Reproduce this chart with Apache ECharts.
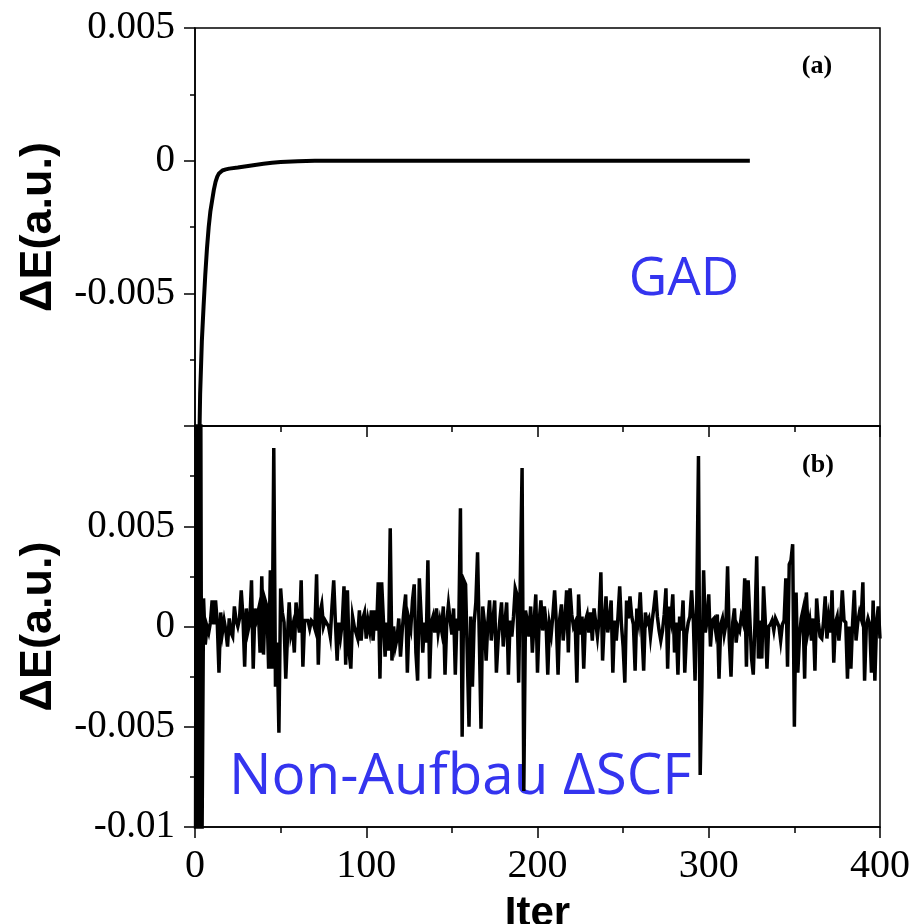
<!DOCTYPE html>
<html><head><meta charset="utf-8">
<script src="https://cdn.jsdelivr.net/npm/echarts@6/dist/echarts.min.js"></script>
<style>html,body{margin:0;padding:0;background:#fff}#c{width:913px;height:924px}</style>
</head><body><div id="c"></div>
<script>
// ---- Panel (a): GAD convergence ----
const gadIter = [0, 1, 2, 3, 4, 5, 6, 7, 8, 9, 10, 11, 12, 13, 14, 15, 16, 18, 20, 25, 30, 35, 40, 45, 50, 60, 70, 100, 150, 200, 250, 300, 324];
const gadDE = [-0.03, -0.02, -0.0125, -0.0088, -0.0068, -0.0055, -0.0043, -0.0033, -0.0025, -0.0019, -0.0015, -0.0011, -0.0008, -0.0006, -0.00048, -0.00042, -0.00037, -0.00033, -0.0003, -0.00026, -0.00021, -0.00016, -0.00012, -0.00008, -0.00005, -0.00002, 0, 0, 0, 0, 0, 0, 0];

// ---- Panel (b): Non-Aufbau ΔSCF, one value per iteration 0..400 ----
const nonAufbauDE = [
 -0.03, 0.03, -0.03, 0.025, -0.012, 0.0014, -0.0009, 0.0000, -0.0003, 0.0002,
 0.0013, 0.0001, 0.0013, 0.0002, -0.0023, 0.0007, -0.0003, 0.0003, -0.0002, -0.0010,
 0.0004, -0.0003, -0.0005, 0.0010, 0.0003, 0.0000, 0.0004, 0.0018, 0.0005, -0.0020,
 0.0009, -0.0002, 0.0002, 0.0023, -0.0021, 0.0009, 0.0004, 0.0008, -0.0013, 0.0025,
 -0.0014, 0.0013, 0.0010, -0.0021, 0.0028, -0.0021, 0.0089, -0.0030, -0.0008, -0.0053,
 0.0019, 0.0007, 0.0002, -0.0026, -0.0005, 0.0012, -0.0004, 0.0000, -0.0013, 0.0012,
 0.0003, -0.0003, 0.0023, -0.0020, 0.0003, 0.0003, 0.0003, -0.0001, 0.0003, 0.0002,
 -0.0001, 0.0026, -0.0019, 0.0007, 0.0011, 0.0000, 0.0003, 0.0003, 0.0000, -0.0005,
 0.0010, 0.0023, 0.0002, -0.0017, 0.0002, -0.0005, 0.0002, 0.0020, -0.0019, 0.0018,
 -0.0013, -0.0021, 0.0005, 0.0000, -0.0003, -0.0006, 0.0008, -0.0007, 0.0004, 0.0007,
 -0.0006, 0.0003, -0.0002, 0.0008, -0.0007, 0.0008, -0.0002, 0.0022, -0.0026, 0.0022,
 0.0022, -0.0015, 0.0002, -0.0012, 0.0049, -0.0017, 0.0000, -0.0010, -0.0006, 0.0004,
 -0.0015, -0.0002, 0.0008, 0.0016, -0.0023, 0.0003, -0.0001, 0.0013, 0.0021, -0.0013,
 -0.0027, 0.0024, 0.0006, -0.0013, 0.0002, -0.0008, 0.0033, -0.0026, 0.0002, 0.0005,
 -0.0003, 0.0009, -0.0003, 0.0003, -0.0002, 0.0010, -0.0024, 0.0002, 0.0011, 0.0003,
 -0.0004, 0.0009, -0.0024, 0.0004, -0.0002, 0.0059, -0.0055, 0.0023, 0.0021, 0.0021,
 -0.0050, 0.0005, -0.0030, 0.0002, 0.0012, 0.0037, -0.0005, -0.0051, 0.0010, 0.0002,
 -0.0017, 0.0002, 0.0013, -0.0007, 0.0003, 0.0013, -0.0023, -0.0007, 0.0003, 0.0012,
 -0.0010, 0.0002, 0.0012, -0.0024, 0.0003, -0.0005, 0.0005, 0.0019, 0.0016, -0.0028,
 -0.0028, 0.0079, -0.0082, 0.0008, 0.0003, -0.0005, 0.0010, -0.0013, 0.0002, 0.0016,
 -0.0023, 0.0003, 0.0013, -0.0002, 0.0010, 0.0002, -0.0024, 0.0001, -0.0004, 0.0006,
 0.0018, 0.0002, -0.0024, 0.0004, 0.0011, -0.0007, 0.0003, 0.0018, -0.0013, 0.0019,
 0.0006, 0.0000, 0.0002, -0.0028, 0.0016, -0.0004, 0.0005, -0.0021, 0.0003, 0.0006,
 -0.0003, 0.0007, -0.0007, 0.0009, 0.0002, -0.0005, 0.0004, 0.0027, -0.0017, 0.0002,
 0.0015, -0.0003, 0.0003, 0.0013, -0.0023, 0.0003, -0.0007, 0.0005, 0.0020, 0.0001,
 -0.0010, -0.0028, 0.0013, 0.0004, 0.0015, 0.0005, 0.0001, -0.0022, 0.0009, 0.0003,
 0.0017, -0.0003, -0.0022, 0.0007, 0.0002, 0.0004, -0.0005, 0.0003, 0.0010, 0.0018,
 0.0005, -0.0002, -0.0007, -0.0002, 0.0006, 0.0019, -0.0021, 0.0010, 0.0004, 0.0016,
 -0.0013, 0.0002, -0.0024, 0.0005, -0.0002, 0.0013, -0.0023, -0.0004, 0.0002, 0.0005,
 0.0018, 0.0003, -0.0027, 0.0012, 0.0085, -0.0074, -0.0030, 0.0028, -0.0003, 0.0003,
 0.0016, -0.0010, 0.0003, 0.0004, -0.0002, 0.0006, -0.0026, 0.0001, 0.0004, -0.0004,
 0.0001, 0.0030, -0.0007, -0.0025, 0.0002, 0.0009, -0.0008, 0.0000, -0.0002, 0.0005,
 0.0002, 0.0024, -0.0020, 0.0023, 0.0004, -0.0016, -0.0024, 0.0002, 0.0035, -0.0016,
 0.0003, -0.0016, 0.0020, 0.0003, -0.0021, 0.0000, 0.0001, 0.0003, -0.0002, 0.0004,
 0.0002, 0.0000, -0.0007, 0.0001, 0.0003, 0.0024, -0.0020, 0.0031, 0.0033, 0.0041,
 -0.0050, 0.0017, -0.0023, -0.0005, 0.0004, 0.0008, -0.0026, 0.0017, -0.0002, 0.0003,
 -0.0007, 0.0004, -0.0022, 0.0014, 0.0002, -0.0005, -0.0006, 0.0002, 0.0015, -0.0006,
 0.0004, -0.0003, 0.0018, -0.0018, 0.0002, 0.0005, -0.0007, 0.0003, 0.0018, 0.0003,
 0.0002, -0.0026, 0.0000, -0.0021, 0.0002, 0.0018, -0.0007, 0.0002, 0.0007, 0.0004,
 0.0022, -0.0027, 0.0000, 0.0004, 0.0001, -0.0023, 0.0013, -0.0027, 0.0002, 0.0010,
 -0.0006
];

// ---- Axis text ----
const yAxisTitle = 'ΔE(a.u.)';
const xAxisTitle = 'Iter';
const panelLabels = ['(a)', '(b)'];
const methodLabels = ['GAD', 'Non-Aufbau ΔSCF'];

const serif = 'Liberation Serif';
const sans = 'Liberation Sans';
const black = '#000';
const blue = '#3434ef';

function fmtY(v) { return String(+Number(v).toFixed(4)); }

function xAxisCfg(gi, showLabels) {
  return {
    type: 'value', gridIndex: gi, min: 0, max: 400, interval: 100,
    axisLine: { show: true, onZero: false, lineStyle: { color: black, width: 1.5 } },
    axisTick: { show: true, inside: false, length: 11, lineStyle: { color: black, width: 1.5 } },
    minorTick: { show: true, splitNumber: 2, length: 6, lineStyle: { color: black, width: 1.5 } },
    splitLine: { show: false },
    axisLabel: { show: showLabels, fontFamily: serif, fontSize: 40, color: black, margin: 19 },
    name: showLabels ? xAxisTitle : '',
    nameLocation: 'middle', nameGap: 66,
    nameTextStyle: { fontFamily: sans, fontWeight: 'bold', fontSize: 42, color: black }
  };
}

function yAxisCfg(gi, min, max, hideMin, hideMax) {
  return {
    type: 'value', gridIndex: gi, min: min, max: max, interval: 0.005,
    axisLine: { show: true, onZero: false, lineStyle: { color: black, width: 1.5 } },
    axisTick: { show: true, inside: false, length: 11, lineStyle: { color: black, width: 1.5 } },
    minorTick: { show: true, splitNumber: 2, length: 5, lineStyle: { color: black, width: 1.5 } },
    splitLine: { show: false },
    axisLabel: {
      fontFamily: serif, fontSize: 39, color: black, margin: 20,
      formatter: function (v) {
        if ((hideMin && Math.abs(v - min) < 1e-9) || (hideMax && Math.abs(v - max) < 1e-9)) return '';
        return fmtY(v);
      }
    },
    name: yAxisTitle, nameLocation: 'middle', nameGap: 134, nameRotate: 90,
    nameTextStyle: { fontFamily: sans, fontWeight: 'bold', fontSize: 45, color: black }
  };
}

const chart = echarts.init(document.getElementById('c'), null, { renderer: 'canvas' });
chart.setOption({
  backgroundColor: '#fff',
  animation: false,
  grid: [
    { left: 195, right: 33, top: 28, height: 398, outerBoundsMode: 'none', containLabel: false, show: true, borderColor: black, borderWidth: 1.5, backgroundColor: 'transparent' },
    { left: 195, right: 33, top: 426, height: 401, outerBoundsMode: 'none', containLabel: false, show: true, borderColor: black, borderWidth: 1.5, backgroundColor: 'transparent' }
  ],
  xAxis: [xAxisCfg(0, false), xAxisCfg(1, true)],
  yAxis: [yAxisCfg(0, -0.01, 0.005, true, false), yAxisCfg(1, -0.01, 0.01, false, true)],
  series: [
    {
      type: 'line', xAxisIndex: 0, yAxisIndex: 0, showSymbol: false, clip: true,
      lineStyle: { color: black, width: 4 },
      data: gadIter.map((it, i) => [it, gadDE[i]])
    },
    {
      type: 'line', xAxisIndex: 1, yAxisIndex: 1, showSymbol: false, clip: true,
      lineStyle: { color: black, width: 3.5, join: 'miter' },
      data: nonAufbauDE.map((v, i) => [i, v])
    }
  ],
  graphic: [
    { type: 'text', x: 817, y: 66, style: { text: panelLabels[0], font: 'bold 26px "Liberation Serif"', fill: black, align: 'center', verticalAlign: 'middle' } },
    { type: 'text', x: 818, y: 465, style: { text: panelLabels[1], font: 'bold 26px "Liberation Serif"', fill: black, align: 'center', verticalAlign: 'middle' } },
    { type: 'text', x: 684, y: 280, style: { text: methodLabels[0], font: '53px "Open Sans"', fill: blue, align: 'center', verticalAlign: 'middle' } },
    { type: 'text', x: 229, y: 778, style: { text: methodLabels[1], font: '56.5px "Open Sans"', fill: blue, align: 'left', verticalAlign: 'middle' } }
  ]
});
</script>
</body></html>
